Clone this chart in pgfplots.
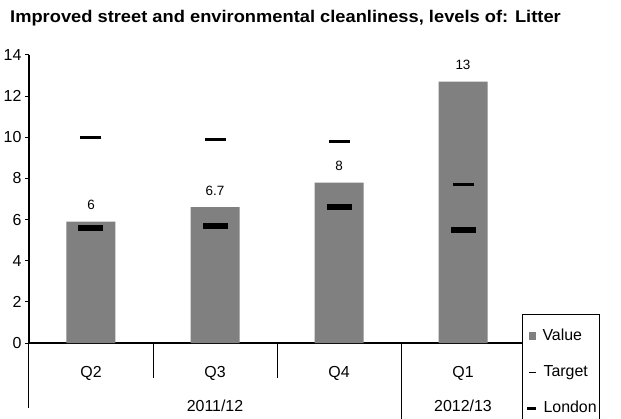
\documentclass[border=0pt]{standalone}
\usepackage{pgfplots}
\pgfplotsset{compat=1.18}
\usepackage{fontspec}
\setmainfont{Liberation Sans}
\definecolor{barfill}{RGB}{128,128,128}
\begin{document}
\begin{tikzpicture}
\useasboundingbox (-29bp,-76bp) rectangle (592bp,343bp);
\node[anchor=base west, font=\bfseries\fontsize{17}{17}\selectfont, inner sep=0pt] at (-19bp,320bp) {\scalebox{1.08}[1]{Improved street and environmental cleanliness, levels of: Litter}};
\begin{axis}[
  scale only axis, width=496bp, height=288bp,
  at={(0,0)}, anchor=south west,
  xmin=-0.5, xmax=3.5, ymin=0, ymax=14,
  ytick={0,2,...,14}, xtick=\empty,
  axis lines=left,
  axis line style={-, line width=1.5bp},
  y tick style={line width=1bp, black},
  tick align=outside, major tick length=4bp,
  /pgf/number format/assume math mode=true,
  yticklabel style={font=\fontsize{16}{16}\selectfont},
  clip=false,
  legend style={at={(rel axis cs:0.994,0.1)}, anchor=north west,
    draw=black, line width=1bp, font=\fontsize{16}{16}\selectfont,
    inner xsep=3bp, inner ysep=14bp, row sep=21bp,
    nodes={inner sep=0pt, text height=12bp, text depth=3bp, anchor=west}},
  legend cell align=left,
]
\addplot[ybar, bar width=49bp, fill=barfill, draw=none,
  nodes near coords, point meta=explicit symbolic,
  nodes near coords style={font=\fontsize{13.5}{14}\selectfont, anchor=base, inner sep=0pt, yshift=12bp, black},
  legend image code/.code={\fill[barfill] (3bp,-4bp) rectangle (10bp,4bp);}]
  coordinates {(0,5.9) [6] (1,6.6) [6.7] (2,7.8) [8] (3,12.7) [13]};
\addlegendentry{\hspace{5bp}Value}
\addplot[only marks, mark=-, mark size=10.5bp, mark options={line width=3.5bp, black},
  legend image code/.code={\draw[line width=0.8bp] (3bp,0)--(10bp,0);}]
  coordinates {(0,10) (1,9.9) (2,9.8) (3,7.7)};
\addlegendentry{\hspace{6bp}Target}
\addplot[only marks, mark=-, mark size=12.5bp, mark options={line width=6bp, black},
  legend image code/.code={\draw[line width=3bp] (1bp,0)--(10bp,0);}]
  coordinates {(0,5.6) (1,5.7) (2,6.6) (3,5.5)};
\addlegendentry{\hspace{6bp}London}
% category separators
\draw[line width=1bp] (axis cs:0.5,0) -- ([yshift=-35bp]axis cs:0.5,0);
\draw[line width=1bp] (axis cs:1.5,0) -- ([yshift=-35bp]axis cs:1.5,0);
\draw[line width=1bp] (axis cs:2.5,0) -- ([yshift=-80bp]axis cs:2.5,0);
\draw[line width=1bp] (axis cs:-0.5,0) -- ([yshift=-65bp]axis cs:-0.5,0);
% category labels
\node[anchor=base, font=\fontsize{16}{16}\selectfont] at ([yshift=-34bp]axis cs:0,0) {Q2};
\node[anchor=base, font=\fontsize{16}{16}\selectfont] at ([yshift=-34bp]axis cs:1,0) {Q3};
\node[anchor=base, font=\fontsize{16}{16}\selectfont] at ([yshift=-34bp]axis cs:2,0) {Q4};
\node[anchor=base, font=\fontsize{16}{16}\selectfont] at ([yshift=-34bp]axis cs:3,0) {Q1};
\node[anchor=base, font=\fontsize{16}{16}\selectfont] at ([yshift=-68bp]axis cs:1,0) {2011/12};
\node[anchor=base, font=\fontsize{16}{16}\selectfont] at ([yshift=-68bp]axis cs:3,0) {2012/13};
\end{axis}
\end{tikzpicture}
\end{document}
